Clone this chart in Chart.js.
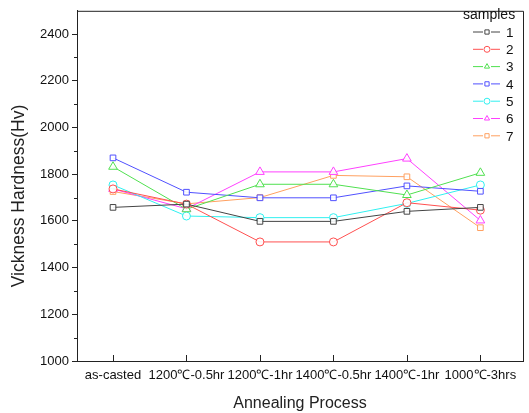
<!DOCTYPE html>
<html>
<head>
<meta charset="utf-8">
<script src="https://cdn.jsdelivr.net/npm/chart.js@4/dist/chart.umd.min.js"></script>
<style>
  html, body { margin: 0; padding: 0; background: #fff; }
  #wrap { width: 529px; height: 413px; }
</style>
</head>
<body>
<div id="wrap"><canvas id="hardness-chart" width="529" height="413"></canvas></div>
<script>
// categories on the x axis (annealing process)
const categories = ['as-casted', '1200℃-0.5hr', '1200℃-1hr', '1400℃-0.5hr', '1400℃-1hr', '1000℃-3hrs'];

// hardness (Hv) per sample
const sample1 = [1658, 1672, 1598, 1598, 1641, 1658];
const sample2 = [1737, 1672, 1510, 1510, 1678, 1646];
const sample3 = [1832, 1650, 1757, 1757, 1711, 1806];
const sample4 = [1870, 1723, 1699, 1699, 1750, 1727];
const sample5 = [1754, 1621, 1614, 1614, 1675, 1754];
const sample6 = [1737, 1652, 1810, 1810, 1867, 1602];
const sample7 = [1726, 1673, 1700, 1795, 1789, 1571];

const sampleNames = ['1', '2', '3', '4', '5', '6', '7'];
const yTicks = [1000, 1200, 1400, 1600, 1800, 2000, 2200, 2400];
const yMinorTicks = [1100, 1300, 1500, 1700, 1900, 2100, 2300];

const FONT = '"Liberation Sans", Arial, sans-serif';
const AXIS = '#222';

const styles = [
    { color: '#444444', point: 'rect' },
    { color: '#ff5050', point: 'circle' },
    { color: '#50e050', point: 'triangle' },
    { color: '#5050ff', point: 'rect' },
    { color: '#30f0f0', point: 'circle' },
    { color: '#ff40ff', point: 'triangle' },
    { color: '#ffa060', point: 'rect' }
];

const allSeries = [sample1, sample2, sample3, sample4, sample5, sample6, sample7];

const datasets = allSeries.map((vals, i) => ({
    label: sampleNames[i],
    data: vals.map((v, k) => ({ x: k + 1, y: v })),
    borderColor: styles[i].color,
    backgroundColor: '#ffffff',
    borderWidth: 1,
    pointStyle: styles[i].point,
    pointRadius: styles[i].point === 'triangle' ? 5 : 4,
    pointBorderColor: styles[i].color,
    pointBackgroundColor: 'rgba(255,255,255,0.9)',
    pointBorderWidth: 1,
    tension: 0
}));

// frame, inward x ticks, minor y ticks, y title and the "samples" legend
const decorPlugin = {
    id: 'decor',
    afterDraw(chart) {
        const { ctx, chartArea: a, scales } = chart;
        ctx.save();
        ctx.strokeStyle = AXIS;
        ctx.lineWidth = 1;
        ctx.beginPath();
        ctx.moveTo(a.left, a.top + 0.5);
        ctx.lineTo(a.right + 0.5, a.top + 0.5);
        ctx.lineTo(a.right + 0.5, a.bottom);
        ctx.stroke();

        ctx.beginPath();
        categories.forEach((c, i) => {
            const x = Math.round(scales.x.getPixelForValue(i + 1)) + 0.5;
            ctx.moveTo(x, a.bottom);
            ctx.lineTo(x, a.bottom - 6);
        });
        yMinorTicks.forEach(v => {
            const y = Math.round(scales.y.getPixelForValue(v)) + 0.5;
            ctx.moveTo(a.left, y);
            ctx.lineTo(a.left - 3, y);
        });
        ctx.stroke();

        // y axis title (sits a bit below the axis centre in the original)
        ctx.save();
        ctx.translate(19, 196);
        ctx.rotate(-Math.PI / 2);
        ctx.font = '17.5px ' + FONT;
        ctx.fillStyle = '#222';
        ctx.textAlign = 'center';
        ctx.textBaseline = 'middle';
        ctx.fillText('Vickness Hardness(Hv)', 0, 0);
        ctx.restore();

        // legend
        ctx.textAlign = 'left';
        ctx.textBaseline = 'middle';
        ctx.fillStyle = '#111';
        ctx.font = '14px ' + FONT;
        ctx.fillText('samples', 463, 15);
        ctx.font = '13.5px ' + FONT;
        datasets.forEach((ds, i) => {
            const y = 32 + i * 17.3;
            ctx.strokeStyle = ds.borderColor;
            ctx.beginPath();
            ctx.moveTo(473, y);
            ctx.lineTo(483, y);
            ctx.moveTo(491, y);
            ctx.lineTo(500, y);
            ctx.stroke();
            ctx.fillStyle = '#ffffff';
            Chart.helpers.drawPoint(ctx, {
                pointStyle: ds.pointStyle,
                radius: 3,
                borderWidth: 1
            }, 487, y);
            ctx.fillStyle = '#111';
            ctx.fillText(ds.label, 506, y + 1);
        });
        ctx.restore();
    }
};

new Chart(document.getElementById('hardness-chart'), {
    type: 'line',
    data: { datasets },
    options: {
        responsive: false,
        animation: false,
        devicePixelRatio: 1,
        layout: { padding: { top: 8, right: 4, left: 0, bottom: 0 } },
        plugins: { legend: { display: false }, tooltip: { enabled: false } },
        scales: {
            x: {
                type: 'linear',
                min: 0.51,
                max: 6.58,
                afterBuildTicks: s => { s.ticks = categories.map((c, i) => ({ value: i + 1 })); },
                afterFit: s => { s.height = 52; },
                grid: { drawOnChartArea: false, drawTicks: false },
                border: { color: AXIS, width: 1 },
                ticks: {
                    autoSkip: false, maxRotation: 0, minRotation: 0, padding: 7,
                    color: '#111', font: { size: 13, family: FONT },
                    callback: v => categories[v - 1]
                },
                title: {
                    display: true, text: 'Annealing Process', color: '#222',
                    font: { size: 16, family: FONT }, padding: { top: 2, bottom: 0 }
                }
            },
            y: {
                min: 1000,
                max: 2500,
                afterBuildTicks: s => { s.ticks = yTicks.map(v => ({ value: v })); },
                afterFit: s => { s.width = 77; },
                grid: { drawOnChartArea: false, drawTicks: true, tickLength: 5, color: AXIS },
                border: { color: AXIS, width: 1 },
                ticks: {
                    padding: 3, color: '#111', font: { size: 13, family: FONT },
                    callback: v => String(v)
                },
                title: { display: false }
            }
        }
    },
    plugins: [decorPlugin]
});
</script>
</body>
</html>
